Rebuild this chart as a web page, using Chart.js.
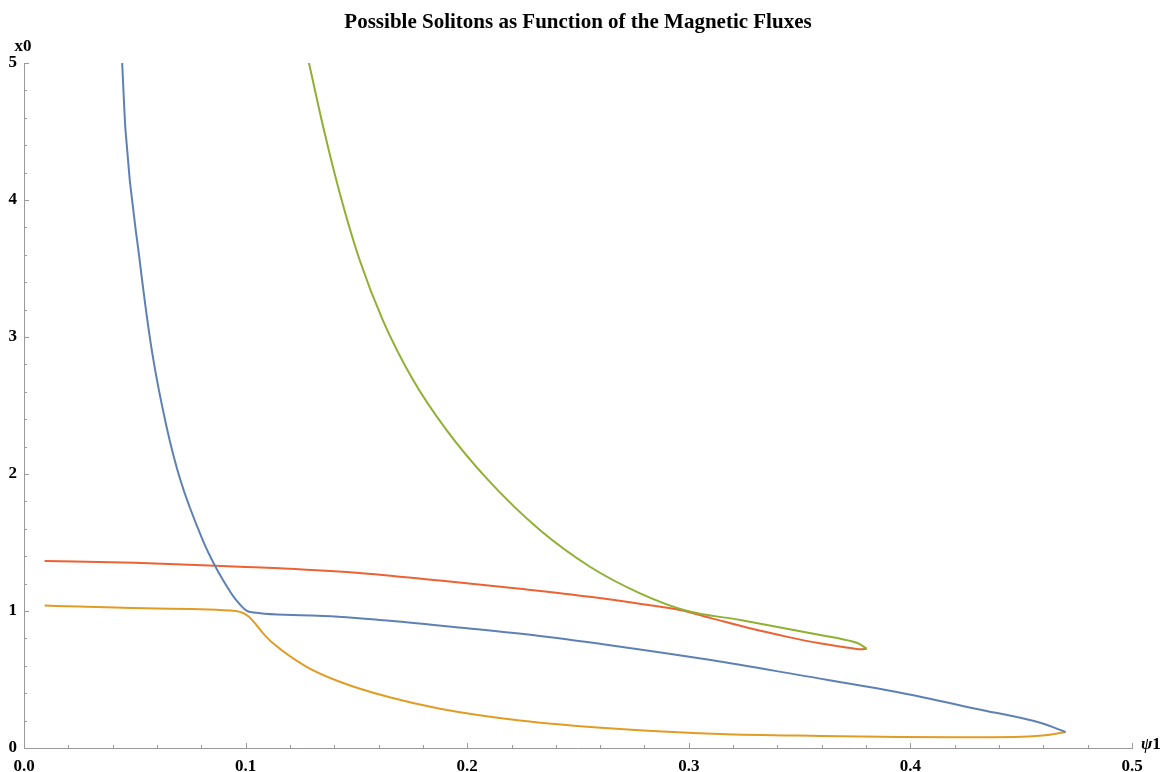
<!DOCTYPE html>
<html>
<head>
<meta charset="utf-8">
<script src="https://cdn.jsdelivr.net/npm/chart.js@4"></script>
<style>
  html, body { margin: 0; padding: 0; background: #fff; }
  #wrap { width: 1162px; height: 772px; }
</style>
</head>
<body>
<div id="wrap"><canvas id="myChart"></canvas></div>
<script>
// --- Data ---
const blueX   = [0.0443, 0.0458, 0.0522, 0.0579, 0.0644, 0.0705, 0.0806, 0.0860, 0.0898, 0.0955, 0.1015, 0.130, 0.165, 0.200, 0.2328, 0.270, 0.310, 0.350, 0.3955, 0.430, 0.459, 0.470];
const blueY   = [5.0, 4.51, 3.56, 2.88, 2.34, 1.96, 1.52, 1.336, 1.226, 1.085, 0.995, 0.968, 0.929, 0.874, 0.8175, 0.738, 0.642, 0.532, 0.404, 0.285, 0.182, 0.117];

const orangeX = [0.0093, 0.025, 0.060, 0.0955, 0.1015, 0.1079, 0.1124, 0.1275, 0.1425, 0.165, 0.1877, 0.2238, 0.269, 0.314, 0.360, 0.3955, 0.420, 0.450, 0.462, 0.470];
const orangeY = [1.04, 1.032, 1.018, 1.0, 0.958, 0.837, 0.764, 0.593, 0.484, 0.370, 0.287, 0.201, 0.138, 0.102, 0.088, 0.081, 0.079, 0.083, 0.095, 0.117];

const redX    = [0.0093, 0.050, 0.100, 0.1155, 0.150, 0.1877, 0.2238, 0.2554, 0.280, 0.296, 0.310, 0.329, 0.344, 0.359, 0.3743, 0.3775, 0.3803];
const redY    = [1.365, 1.352, 1.322, 1.312, 1.280, 1.222, 1.162, 1.104, 1.048, 1.007, 0.948, 0.868, 0.813, 0.764, 0.727, 0.720, 0.724];

const greenX  = [0.1286, 0.135, 0.1425, 0.1515, 0.162, 0.1756, 0.1907, 0.2095, 0.2328, 0.2554, 0.278, 0.299, 0.3233, 0.3593, 0.3743, 0.3775, 0.3803];
const greenY  = [5.0, 4.535, 4.05, 3.56, 3.12, 2.686, 2.32, 1.955, 1.591, 1.323, 1.129, 1.002, 0.934, 0.825, 0.775, 0.755, 0.724];

// --- Ticks ---
const xMajorTicks = [0, 0.1, 0.2, 0.3, 0.4, 0.5];
const xMinorTicks = [0.02, 0.04, 0.06, 0.08, 0.12, 0.14, 0.16, 0.18, 0.22, 0.24, 0.26, 0.28, 0.32, 0.34, 0.36, 0.38, 0.42, 0.44, 0.46, 0.48];
const yMajorTicks = [0, 1, 2, 3, 4, 5];
const yMinorTicks = [0.2, 0.4, 0.6, 0.8, 1.2, 1.4, 1.6, 1.8, 2.2, 2.4, 2.6, 2.8, 3.2, 3.4, 3.6, 3.8, 4.2, 4.4, 4.6, 4.8];

const titleText = 'Possible Solitons as Function of the Magnetic Fluxes';
const serif = "'Liberation Serif', 'Times New Roman', serif";
const axisGray = '#9a9a9a';

const toPoints = (xs, ys) => xs.map((x, i) => ({ x: x, y: ys[i] }));

function series(xs, ys, color) {
  return {
    data: toPoints(xs, ys),
    showLine: true,
    borderColor: color,
    backgroundColor: color,
    borderWidth: 2,
    pointRadius: 0,
    cubicInterpolationMode: 'monotone',
    fill: false
  };
}

// inward tick marks + axis labels + title
const decorations = {
  id: 'decorations',
  afterDatasetsDraw(chart) {
    const { ctx, chartArea, scales } = chart;
    ctx.save();
    ctx.strokeStyle = axisGray;
    ctx.lineWidth = 1;
    ctx.beginPath();
    xMajorTicks.forEach(v => {
      const px = Math.round(scales.x.getPixelForValue(v)) + 0.5;
      ctx.moveTo(px, chartArea.bottom); ctx.lineTo(px, chartArea.bottom - 5);
    });
    xMinorTicks.forEach(v => {
      const px = Math.round(scales.x.getPixelForValue(v)) + 0.5;
      ctx.moveTo(px, chartArea.bottom); ctx.lineTo(px, chartArea.bottom - 3);
    });
    yMajorTicks.forEach(v => {
      const py = Math.round(scales.y.getPixelForValue(v)) + 0.5;
      ctx.moveTo(chartArea.left, py); ctx.lineTo(chartArea.left + 5, py);
    });
    yMinorTicks.forEach(v => {
      const py = Math.round(scales.y.getPixelForValue(v)) + 0.5;
      ctx.moveTo(chartArea.left, py); ctx.lineTo(chartArea.left + 3, py);
    });
    ctx.stroke();

    ctx.fillStyle = '#000';
    ctx.textBaseline = 'middle';
    ctx.textAlign = 'center';
    ctx.font = 'bold 21px ' + serif;
    ctx.fillText(titleText, 578, 23);

    ctx.font = 'bold 17px ' + serif;
    ctx.fillText('x0', 23, 47);

    ctx.textAlign = 'left';
    ctx.font = 'italic bold 17px ' + serif;
    ctx.fillText('ψ', 1141, 745);
    const w = ctx.measureText('ψ').width;
    ctx.font = 'bold 17px ' + serif;
    ctx.fillText('1', 1141 + w, 745);
    ctx.restore();
  }
};

const ctx = document.getElementById('myChart').getContext('2d');
const chart = new Chart(ctx, {
  type: 'scatter',
  data: {
    datasets: [
      series(blueX, blueY, '#5E81B5'),
      series(orangeX, orangeY, '#E19C24'),
      series(greenX, greenY, '#8FB032'),
      series(redX, redY, '#EB6235')
    ]
  },
  options: {
    responsive: true,
    maintainAspectRatio: false,
    animation: false,
    layout: { padding: { top: 63, right: 30, left: 0, bottom: 0 } },
    plugins: {
      legend: { display: false },
      tooltip: { enabled: false },
      title: { display: false }
    },
    scales: {
      x: {
        type: 'linear',
        min: 0,
        max: 0.5,
        afterFit: s => { s.height = 24; },
        grid: { display: false, drawTicks: false },
        border: { display: true, color: axisGray, width: 1 },
        ticks: {
          stepSize: 0.1,
          padding: 8,
          color: '#000',
          font: { family: serif, weight: 'bold', size: 17 },
          callback: v => v.toFixed(1)
        }
      },
      y: {
        type: 'linear',
        min: 0,
        max: 5,
        afterFit: s => { s.width = 24; },
        grid: { display: false, drawTicks: false },
        border: { display: true, color: axisGray, width: 1 },
        ticks: {
          stepSize: 1,
          padding: 7,
          color: '#000',
          font: { family: serif, weight: 'bold', size: 17 },
          callback: v => String(v)
        }
      }
    }
  },
  plugins: [decorations]
});
</script>
</body>
</html>
